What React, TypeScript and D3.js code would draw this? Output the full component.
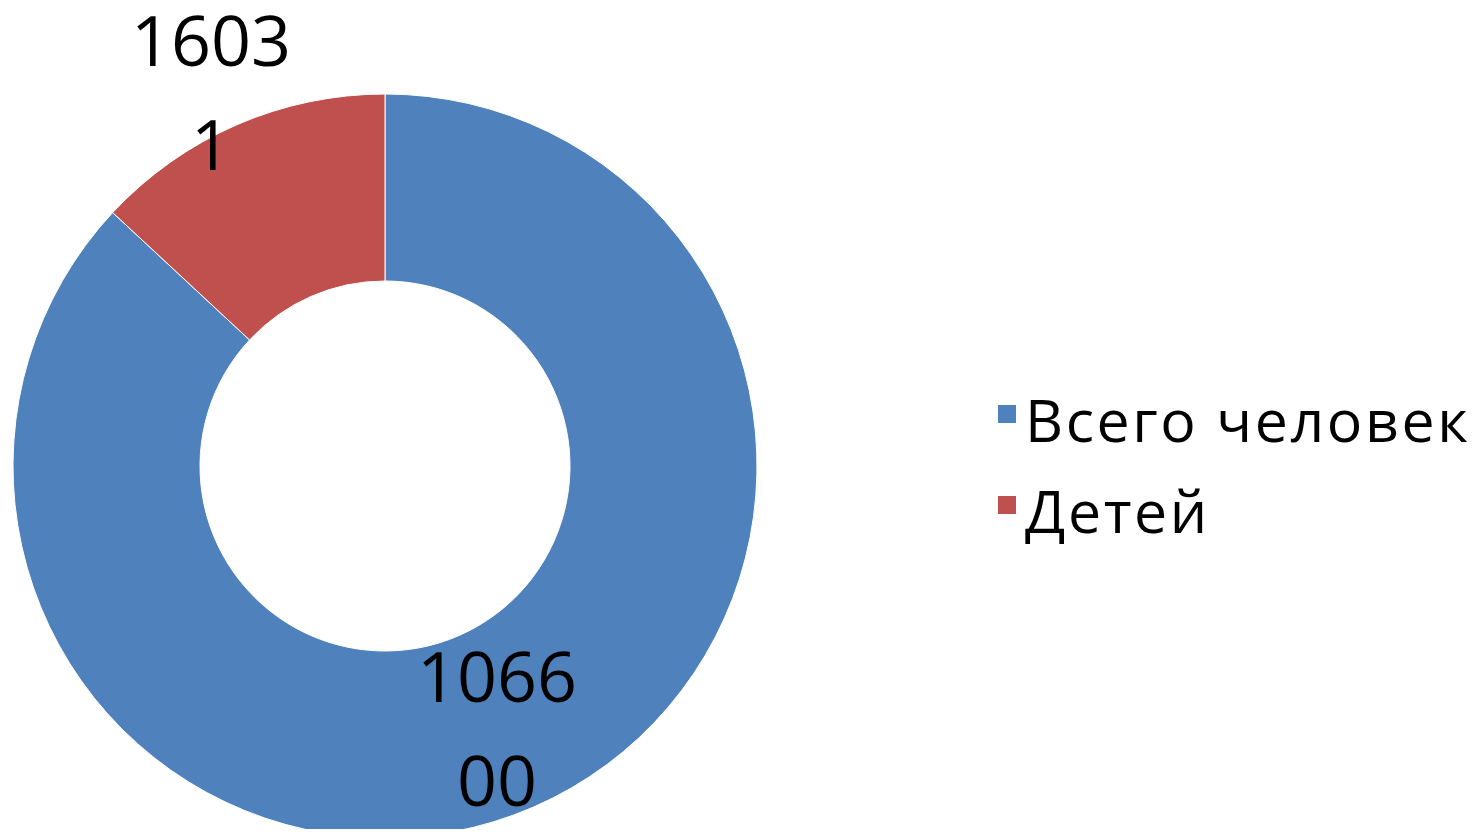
import React, { useEffect, useRef } from 'react';
import * as d3 from 'd3';

const categories = ['Всего человек', 'Детей'];
const values = [106600, 16031];
const labelLines = [['1066', '00'], ['1603', '1']];
const colors = ['#4F81BD', '#C0504D'];

const App = () => {
  const svgRef = useRef<SVGSVGElement>(null);

  useEffect(() => {
    const width = 1480;
    const height = 837;
    const svg = d3.select(svgRef.current);
    svg.selectAll('*').remove();
    svg.attr('width', width).attr('height', height);

    svg.append('rect').attr('width', width).attr('height', height).attr('fill', '#fff');

    const cx = 385;
    const cy = 466;
    const outerR = 372;
    const innerR = 185;

    const data = categories.map((c, i) => ({ name: c, value: values[i], lines: labelLines[i], color: colors[i] }));

    const pie = d3.pie<any>().value(d => d.value).sort(null);
    const arc = d3.arc<any>().innerRadius(innerR).outerRadius(outerR);

    const g = svg.append('g').attr('transform', `translate(${cx},${cy})`);

    const arcs = pie(data);

    g.selectAll('path')
      .data(arcs)
      .enter()
      .append('path')
      .attr('d', arc)
      .attr('fill', d => d.data.color)
      .attr('stroke', '#fff')
      .attr('stroke-width', 1);

    // data labels (wrapped like the original)
    const labelPos = [
      { x: 497 - cx, y: 702 - cy },
      { x: 211 - cx, y: 66 - cy },
    ];
    arcs.forEach((a, i) => {
      const t = g.append('text')
        .attr('text-anchor', 'middle')
        .style('font-family', '"Open Sans", sans-serif')
        .style('font-size', '70px')
        .attr('fill', '#000');
      a.data.lines.forEach((line: string, j: number) => {
        t.append('tspan')
          .attr('x', labelPos[i].x)
          .attr('y', labelPos[i].y + j * 104)
          .text(line);
      });
    });

    // legend
    const legend = svg.append('g').attr('transform', 'translate(998, 442)');
    data.forEach((d, i) => {
      const item = legend.append('g').attr('transform', `translate(0, ${i * 91})`);
      item.append('rect')
        .attr('x', 0)
        .attr('y', -37)
        .attr('width', 18)
        .attr('height', 18)
        .attr('fill', d.color);
      item.append('text')
        .attr('x', 27)
        .attr('y', 0)
        .style('font-family', '"Open Sans", sans-serif')
        .style('font-size', '59px')
        .style('letter-spacing', '2.6px')
        .attr('fill', '#000')
        .text(d.name);
    });
  }, []);

  return (
    <div style={{ margin: -8 }}>
      <svg ref={svgRef} style={{ display: 'block' }}></svg>
    </div>
  );
};

export default App;
